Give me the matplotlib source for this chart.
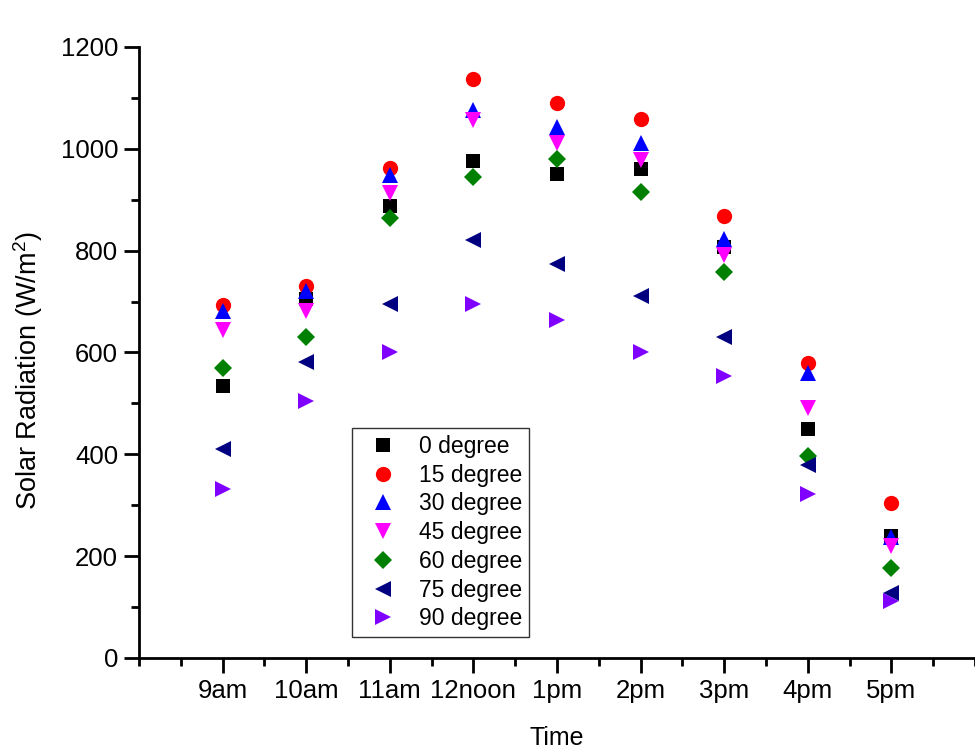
import matplotlib
matplotlib.use("Agg")
import matplotlib.pyplot as plt
from matplotlib.ticker import MultipleLocator

plt.rcParams['font.family'] = ['Liberation Sans', 'DejaVu Sans']
plt.rcParams['mathtext.fontset'] = 'custom'
plt.rcParams['mathtext.rm'] = 'Liberation Sans'

times = ["9am", "10am", "11am", "12noon", "1pm", "2pm", "3pm", "4pm", "5pm"]

deg0 = [534, 705, 888, 976, 951, 960, 808, 449, 240]
deg15 = [694, 731, 963, 1137, 1090, 1058, 869, 579, 304]
deg30 = [682, 720, 949, 1076, 1042, 1012, 823, 559, 238]
deg45 = [644, 682, 913, 1057, 1011, 978, 792, 491, 219]
deg60 = [569, 631, 864, 944, 980, 915, 758, 397, 176]
deg75 = [411, 581, 695, 821, 774, 711, 631, 379, 127]
deg90 = [332, 505, 600, 695, 664, 600, 553, 322, 111]

series = [
    ("0 degree", deg0, "s", "#000000", 10),
    ("15 degree", deg15, "o", "#ff0000", 11),
    ("30 degree", deg30, "^", "#0000ff", 11),
    ("45 degree", deg45, "v", "#ff00ff", 11),
    ("60 degree", deg60, "D", "#008000", 9),
    ("75 degree", deg75, "<", "#000080", 11),
    ("90 degree", deg90, ">", "#8000ff", 11),
]

fig = plt.figure(figsize=(9.75, 7.53), dpi=100)
ax = fig.add_axes([0.1426, 0.1262, 0.8574, 0.8114])

x = list(range(1, len(times) + 1))
for label, vals, mk, col, ms in series:
    ax.plot(x, vals, linestyle="none", marker=mk, color=col,
            markersize=ms, markeredgewidth=0, label=label)

ax.set_xlim(0, 10)
ax.set_ylim(0, 1200)
ax.set_xticks(x)
ax.set_xticklabels(times)
ax.xaxis.set_minor_locator(MultipleLocator(0.5))
ax.yaxis.set_major_locator(MultipleLocator(200))
ax.yaxis.set_minor_locator(MultipleLocator(100))

for side in ("top", "right"):
    ax.spines[side].set_visible(False)
for side in ("left", "bottom"):
    ax.spines[side].set_linewidth(2.0)

ax.tick_params(which="major", direction="out", length=11, width=2.0,
               labelsize=18.5, pad=4)
ax.tick_params(which="minor", direction="out", length=6, width=2.0)

ax.set_xlabel("Time", fontsize=18, labelpad=17)
ax.set_ylabel("Solar Radiation (W/m$^2$)", fontsize=19.5, labelpad=11)
ax.yaxis.label.set_y(0.47)

leg = ax.legend(loc="lower left", bbox_to_anchor=(0.2548, 0.034),
                fontsize=16.5, frameon=True, fancybox=False,
                edgecolor="black", handletextpad=0.53, labelspacing=0.25,
                borderpad=0.3, handlelength=2.1, borderaxespad=0)
leg.get_frame().set_linewidth(1.0)

fig.savefig("out.png", dpi=100, facecolor="white")
